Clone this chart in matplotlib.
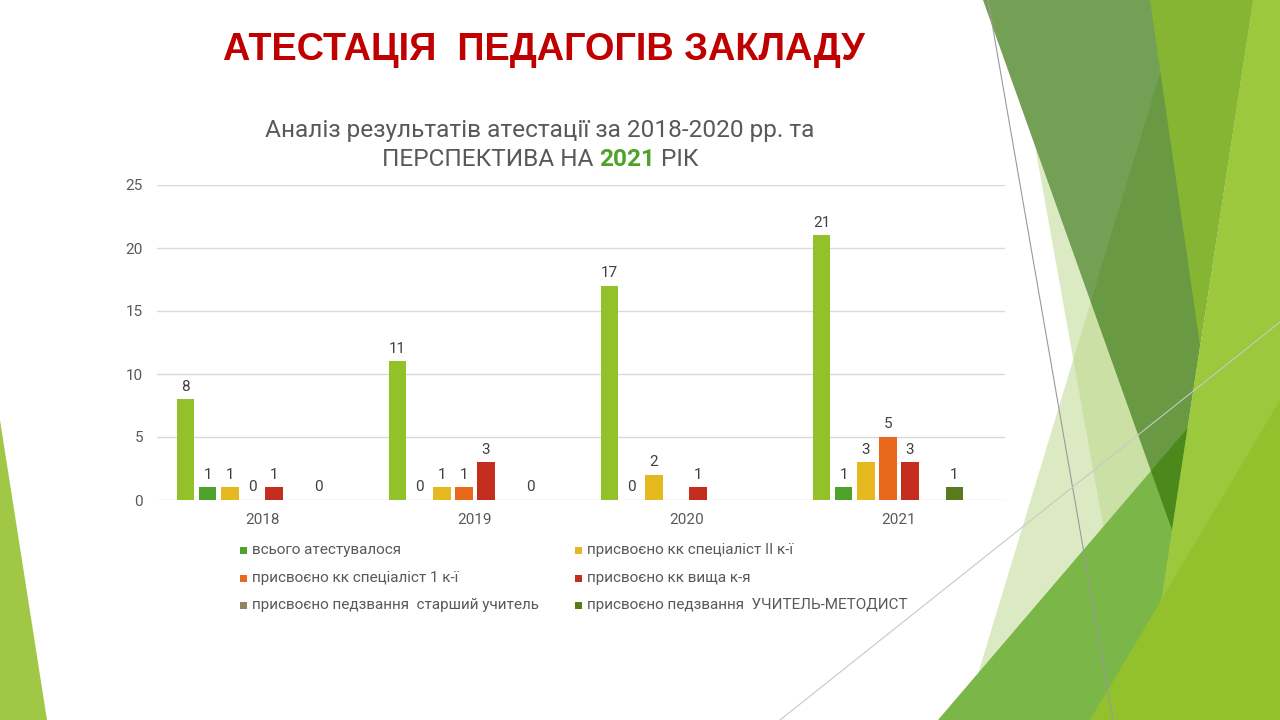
import matplotlib

matplotlib.use("Agg")
import matplotlib.pyplot as plt
import numpy as np
from matplotlib.patches import Polygon, Rectangle

# ---- data ----
years = ["2018", "2019", "2020", "2021"]
total_attested = [8, 11, 17, 21]
attested = [1, 0, 0, 1]
specialist_2 = [1, 1, 2, 3]
specialist_1 = [0, 1, np.nan, 5]
higher_cat = [1, 3, 1, 3]
senior_teacher = [np.nan, np.nan, np.nan, np.nan]
teacher_methodist = [0, 0, np.nan, 1]
empty_series = [np.nan, np.nan, np.nan, np.nan]

legend_labels = [
    "всього атестувалося",
    "присвоєно кк спеціаліст II к-ї",
    "присвоєно кк спеціаліст 1 к-ї",
    "присвоєно кк вища к-я",
    "присвоєно педзвання  старший учитель",
    "присвоєно педзвання  УЧИТЕЛЬ-МЕТОДИСТ",
]

series = [total_attested, attested, specialist_2, specialist_1,
          higher_cat, senior_teacher, teacher_methodist, empty_series]
colors = ["#93C12A", "#4EA22A", "#E6B820", "#E8691C",
          "#C52E1E", "#8D8660", "#5A7A1E", "#FFFFFF"]

TEXT_GRAY = "#595959"
FONT = ["Roboto", "DejaVu Sans"]
SUB_SIZE = 17.6

fig = plt.figure(figsize=(12.8, 7.2), dpi=100)
fig.patch.set_facecolor("white")

# ---- slide decoration (pixel coordinates of the slide) ----
bg = fig.add_axes([0, 0, 1, 1], zorder=0)
bg.set_xlim(0, 1280)
bg.set_ylim(720, 0)
bg.axis("off")

shapes = [
    ([(1035, 146), (1138, 720), (1280, 720), (1280, 400), (1172, 530)], "#BBD789", 0.5),
    ([(1161, 70), (964, 720), (1280, 720), (1280, 345), (1200, 345)], "#BBD789", 0.5),
    ([(938, 720), (1280, 320), (1280, 720)], "#7AB648", 1.0),
    ([(983, 0), (1253, 0), (1172, 530)], "#36750A", 0.69),
    ([(1253, 0), (1280, 0), (1280, 720), (1143, 720)], "#9BC83C", 1.0),
    ([(1150, 0), (1253, 0), (1200, 345)], "#86B534", 1.0),
    ([(1090, 720), (1280, 400), (1280, 720)], "#93C12E", 1.0),
    ([(0, 420), (47, 720), (0, 720)], "#A0C846", 1.0),
]
for pts, col, alpha in shapes:
    bg.add_patch(Polygon(pts, closed=True, facecolor=col, edgecolor="none", alpha=alpha))
bg.plot([988, 1113], [0, 720], color="#9A9A9A", lw=0.8)
bg.plot([780, 1280], [720, 322], color="#C8C8C8", lw=0.8)

# ---- chart ----
ax = fig.add_axes([157 / 1280, 220 / 720, 848 / 1280, 315 / 720], zorder=1)
ax.patch.set_alpha(0)

x = np.arange(len(years))
slot = 0.1043
width = 0.0825
for i, (vals, col) in enumerate(zip(series, colors)):
    pos = x + (i - 3.5) * slot
    vals = np.asarray(vals, dtype=float)
    ax.bar(pos, vals, width=width, color=col, zorder=2)
    for px, v in zip(pos, vals):
        if np.isnan(v):
            continue
        ax.annotate(f"{int(v)}", (px, v), xytext=(0, 4), textcoords="offset points",
                    ha="center", va="bottom", fontsize=11, color="#404040", family=FONT)

ax.set_xlim(-0.5, 3.5)
ax.set_ylim(0, 25)
ax.set_yticks(range(0, 26, 5))
ax.set_xticks(x)
ax.set_xticklabels(years)
ax.tick_params(length=0, labelsize=11, labelcolor=TEXT_GRAY)
ax.tick_params(axis="y", pad=10)
ax.tick_params(axis="x", pad=9)
for lab in ax.get_xticklabels() + ax.get_yticklabels():
    lab.set_family(FONT)
ax.grid(axis="y", color="#D9D9D9", lw=1, zorder=0)
for s in ax.spines.values():
    s.set_visible(False)

# ---- legend, drawn as a two-column block ----
legend_cols = [243, 578]
legend_rows = [550, 578, 605]
for k, label in enumerate(legend_labels):
    cx = legend_cols[k % 2]
    cy = legend_rows[k // 2]
    bg.add_patch(Rectangle((cx - 3.5, cy - 3.5), 7, 7, facecolor=colors[k + 1], edgecolor="none"))
    bg.text(cx + 9, cy, label, ha="left", va="center", fontsize=11,
            color=TEXT_GRAY, family=FONT)

# ---- titles ----
bg.text(544, 50, "АТЕСТАЦІЯ  ПЕДАГОГІВ ЗАКЛАДУ", ha="center", va="center",
        fontsize=27.3, fontweight="bold", color="#C00000", family="Liberation Sans")
bg.text(540, 131, "Аналіз результатів атестації за 2018-2020 рр. та", ha="center",
        va="center", fontsize=SUB_SIZE, color=TEXT_GRAY, family=FONT)

renderer = fig.canvas.get_renderer()
parts = [("ПЕРСПЕКТИВА НА", TEXT_GRAY, "normal"), ("2021", "#4EA22A", "bold"), ("РІК", TEXT_GRAY, "normal")]
probe = bg.text(0, 0, "a a", fontsize=SUB_SIZE, family=FONT)
probe2 = bg.text(0, 0, "aa", fontsize=SUB_SIZE, family=FONT)
space_w = probe.get_window_extent(renderer).width - probe2.get_window_extent(renderer).width
probe.remove()
probe2.remove()
objs = [bg.text(0, 160, t, ha="left", va="center", fontsize=SUB_SIZE, color=c,
                fontweight=w, family=FONT) for t, c, w in parts]
widths = [o.get_window_extent(renderer).width for o in objs]
total_w = sum(widths) + space_w * (len(objs) - 1)
cur = 540 - total_w / 2
for o, w in zip(objs, widths):
    o.set_x(cur)
    cur += w + space_w

fig.savefig("out.png", dpi=100)
